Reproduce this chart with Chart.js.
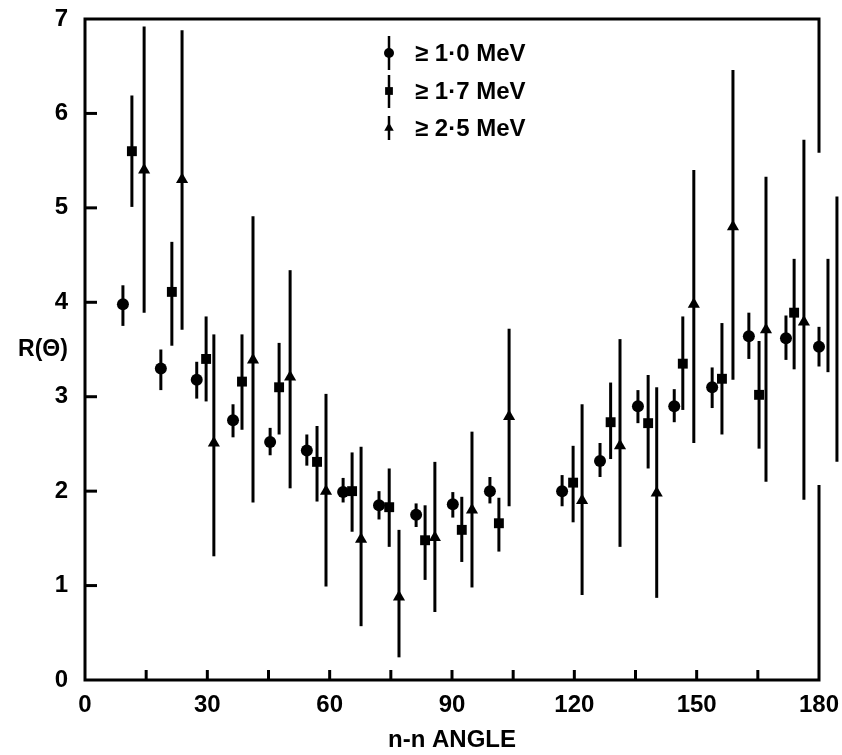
<!DOCTYPE html>
<html>
<head>
<meta charset="utf-8">
<title>R(Θ) versus n-n angle</title>
<script src="https://cdn.jsdelivr.net/npm/chart.js@4.4.1/dist/chart.umd.min.js"></script>
<style>
  html, body { margin: 0; padding: 0; background: #fff; }
  #wrap { width: 842px; height: 755px; position: relative; }
</style>
</head>
<body>
<div id="wrap"><canvas id="c" width="842" height="755"></canvas></div>
<script>
// Threshold ≥ 1.0 MeV (circles)
const angles1 = [9.3, 18.6, 27.4, 36.3, 45.4, 54.4, 63.3, 72.1, 81.2, 90.2, 99.3, 117.0, 126.3, 135.6, 144.5, 153.8, 162.8, 171.9, 180.0];
const ratio1  = [3.98, 3.30, 3.18, 2.75, 2.52, 2.43, 1.99, 1.85, 1.75, 1.86, 2.00, 2.00, 2.32, 2.90, 2.90, 3.10, 3.64, 3.62, 3.53];
const low1    = [3.75, 3.07, 2.98, 2.57, 2.38, 2.27, 1.88, 1.70, 1.62, 1.72, 1.87, 1.84, 2.15, 2.72, 2.73, 2.88, 3.40, 3.39, 3.32];
const high1   = [4.18, 3.50, 3.37, 2.92, 2.67, 2.60, 2.14, 2.00, 1.87, 1.99, 2.15, 2.17, 2.51, 3.07, 3.08, 3.31, 3.89, 3.86, 3.74];

// Threshold ≥ 1.7 MeV (squares)
const angles2 = [11.5, 21.3, 29.7, 38.5, 47.6, 56.9, 65.5, 74.6, 83.4, 92.4, 101.5, 119.7, 128.9, 138.1, 146.6, 156.2, 165.3, 173.9, 182.2];
const ratio2  = [5.60, 4.11, 3.40, 3.16, 3.10, 2.31, 2.00, 1.83, 1.48, 1.59, 1.66, 2.09, 2.73, 2.72, 3.35, 3.19, 3.02, 3.89, 3.87];
const low2    = [5.01, 3.54, 2.95, 2.65, 2.60, 1.89, 1.57, 1.41, 1.06, 1.25, 1.36, 1.67, 2.34, 2.24, 2.86, 2.60, 2.45, 3.29, 3.26];
const high2   = [6.19, 4.64, 3.85, 3.66, 3.57, 2.69, 2.41, 2.24, 1.85, 1.94, 1.93, 2.48, 3.15, 3.23, 3.85, 3.78, 3.59, 4.46, 4.46];

// Threshold ≥ 2.5 MeV (triangles)
const angles3 = [14.5, 23.8, 31.6, 41.2, 50.3, 59.1, 67.7, 77.0, 85.8, 94.9, 104.0, 121.9, 131.2, 140.2, 149.3, 158.9, 167.0, 176.3, 184.4];
const ratio3  = [5.40, 5.30, 2.51, 3.39, 3.21, 2.00, 1.49, 0.88, 1.51, 1.80, 2.79, 1.90, 2.48, 1.98, 3.98, 4.80, 3.71, 3.79, 3.73];
const low3    = [3.89, 3.71, 1.31, 1.88, 2.03, 0.99, 0.57, 0.24, 0.72, 0.98, 1.84, 0.90, 1.41, 0.87, 2.51, 3.18, 2.10, 1.91, 2.31];
const high3   = [6.92, 6.88, 3.66, 4.91, 4.34, 3.03, 2.47, 1.59, 2.31, 2.63, 3.72, 2.92, 3.61, 3.10, 5.40, 6.46, 5.33, 5.72, 5.12];

const seriesLabels = ['≥ 1·0 MeV', '≥ 1·7 MeV', '≥ 2·5 MeV'];
const xTickValues = [0, 15, 30, 45, 60, 75, 90, 105, 120, 135, 150, 165, 180];
const yTickValues = [0, 1, 2, 3, 4, 5, 6, 7];
const xTitle = 'n-n ANGLE';
const yTitle = 'R(Θ)';

const FONT = "'Liberation Sans', Arial, sans-serif";
const INK = '#000';

function points(xs, ys) { return xs.map((a, i) => ({ x: a, y: ys[i] })); }

// Vertical error bars, no caps
const errorBars = {
  id: 'errorBars',
  beforeDatasetsDraw(chart) {
    const { ctx, scales: { x, y } } = chart;
    ctx.save();
    ctx.strokeStyle = INK;
    ctx.lineWidth = 3;
    chart.data.datasets.forEach(ds => {
      ds.data.forEach((p, i) => {
        const px = x.getPixelForValue(p.x);
        ctx.beginPath();
        ctx.moveTo(px, y.getPixelForValue(ds.errLow[i]));
        ctx.lineTo(px, y.getPixelForValue(ds.errHigh[i]));
        ctx.stroke();
      });
    });
    ctx.restore();
  }
};

// Box frame with inward ticks; the right side is left open where the data sit
const frame = {
  id: 'frame',
  afterDatasetsDraw(chart, args, opts) {
    const { ctx, scales: { x, y } } = chart;
    const x0 = x.getPixelForValue(0), x1 = x.getPixelForValue(180);
    const y0 = y.getPixelForValue(0), y1 = y.getPixelForValue(7);
    ctx.save();
    ctx.strokeStyle = INK;
    ctx.lineWidth = 3;
    ctx.lineCap = 'square';
    ctx.beginPath();
    ctx.moveTo(x1, y.getPixelForValue(opts.rightGap[1]));
    ctx.lineTo(x1, y1);
    ctx.lineTo(x0, y1);
    ctx.lineTo(x0, y0);
    ctx.lineTo(x1, y0);
    ctx.lineTo(x1, y.getPixelForValue(opts.rightGap[0]));
    ctx.stroke();
    ctx.lineCap = 'butt';
    xTickValues.slice(1, -1).forEach(v => {
      const px = x.getPixelForValue(v);
      ctx.beginPath(); ctx.moveTo(px, y0); ctx.lineTo(px, y0 - 10); ctx.stroke();
    });
    yTickValues.slice(1, -1).forEach(v => {
      const py = y.getPixelForValue(v);
      ctx.beginPath(); ctx.moveTo(x0, py); ctx.lineTo(x0 + 12, py); ctx.stroke();
    });
    // horizontal y-axis title
    ctx.fillStyle = INK;
    ctx.font = 'bold 23px ' + FONT;
    ctx.textAlign = 'center';
    ctx.textBaseline = 'middle';
    ctx.fillText(yTitle, 43, y.getPixelForValue(3.5));
    ctx.restore();
  }
};

// Legend with error-bar markers
const markerLegend = {
  id: 'markerLegend',
  afterDatasetsDraw(chart) {
    const { ctx, chartArea } = chart;
    const mx = chartArea.left + 304;
    const tx = chartArea.left + 330;
    const rows = [34, 72, 109];
    const bars = [[-17, 17], [-16, 17], [-12, 12]];
    const sizes = [5, 5.5, 5.5];
    ctx.save();
    ctx.fillStyle = INK;
    ctx.strokeStyle = INK;
    chart.data.datasets.forEach((ds, i) => {
      const cy = chartArea.top + rows[i];
      ctx.lineWidth = 2.5;
      ctx.beginPath(); ctx.moveTo(mx, cy + bars[i][0]); ctx.lineTo(mx, cy + bars[i][1]); ctx.stroke();
      Chart.helpers.drawPoint(ctx, { pointStyle: ds.pointStyle, rotation: 0, borderWidth: 0, radius: sizes[i] }, mx, cy);
      ctx.fillStyle = INK;
      ctx.font = 'bold 24px ' + FONT;
      ctx.textAlign = 'left';
      ctx.textBaseline = 'middle';
      ctx.fillText(ds.label, tx, cy + 1);
    });
    ctx.restore();
  }
};

const common = { backgroundColor: INK, borderColor: INK, borderWidth: 0, showLine: false, clip: false };

new Chart(document.getElementById('c'), {
  type: 'scatter',
  data: {
    datasets: [
      { ...common, label: seriesLabels[0], data: points(angles1, ratio1), errLow: low1, errHigh: high1, pointStyle: 'circle', pointRadius: 6 },
      { ...common, label: seriesLabels[1], data: points(angles2, ratio2), errLow: low2, errHigh: high2, pointStyle: 'rect', pointRadius: 7 },
      { ...common, label: seriesLabels[2], data: points(angles3, ratio3), errLow: low3, errHigh: high3, pointStyle: 'triangle', pointRadius: 7 }
    ]
  },
  options: {
    responsive: false,
    animation: false,
    events: [],
    layout: { padding: { top: 19, right: 23, left: 0, bottom: 0 } },
    plugins: {
      legend: { display: false },
      tooltip: { enabled: false },
      frame: { rightGap: [2.05, 5.6] }
    },
    scales: {
      x: {
        type: 'linear',
        min: 0, max: 180,
        afterBuildTicks: s => { s.ticks = xTickValues.map(v => ({ value: v })); },
        afterFit: s => { s.height = 75; s.paddingLeft = 0; s.paddingRight = 0; },
        grid: { display: false, drawTicks: false },
        border: { display: false },
        ticks: {
          color: INK,
          padding: 11,
          maxRotation: 0,
          autoSkip: false,
          font: { family: FONT, size: 24, weight: 'bold' },
          callback: v => (v % 30 === 0 ? String(v) : '')
        },
        title: {
          display: true,
          text: xTitle,
          color: INK,
          font: { family: FONT, size: 24, weight: 'bold' },
          padding: { top: 0, bottom: 0 }
        }
      },
      y: {
        type: 'linear',
        min: 0, max: 7,
        afterBuildTicks: s => { s.ticks = yTickValues.map(v => ({ value: v })); },
        afterFit: s => { s.width = 85; s.paddingTop = 0; s.paddingBottom = 0; },
        grid: { display: false, drawTicks: false },
        border: { display: false },
        ticks: {
          color: INK,
          padding: 17,
          font: { family: FONT, size: 24, weight: 'bold' }
        }
      }
    }
  },
  plugins: [errorBars, frame, markerLegend]
});
</script>
</body>
</html>
